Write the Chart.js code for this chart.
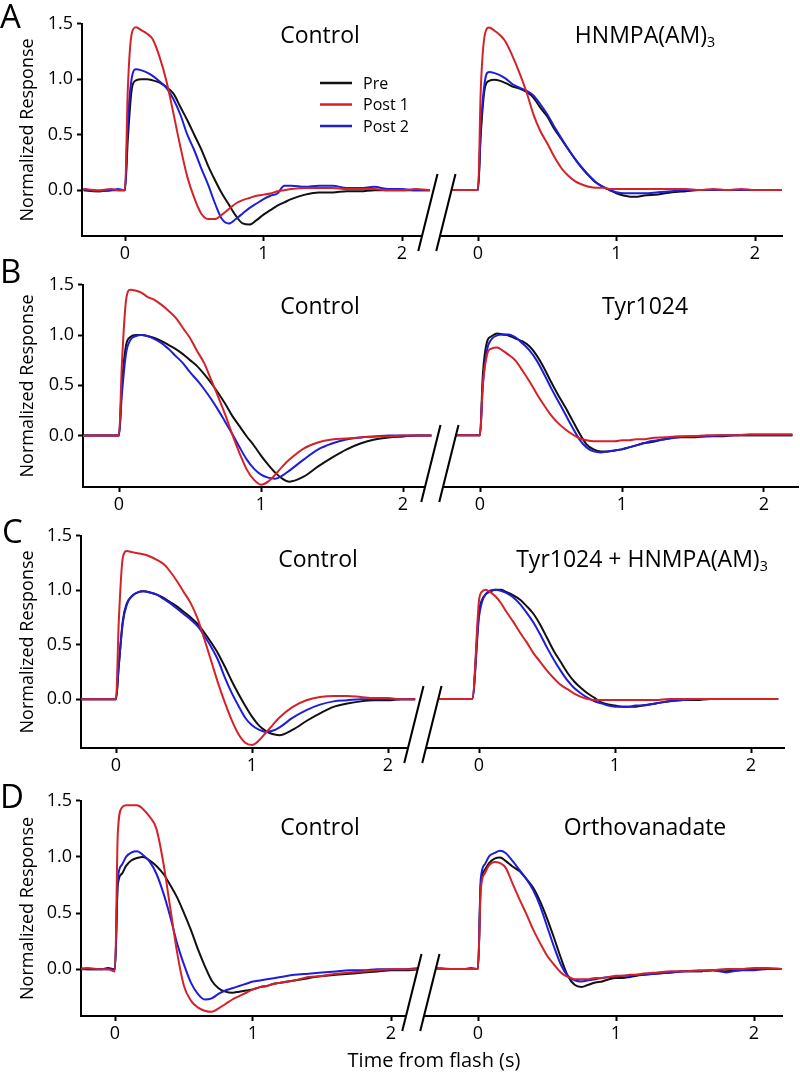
<!DOCTYPE html>
<html>
<head>
<meta charset="utf-8">
<title>Normalized response</title>
<script src="https://cdn.jsdelivr.net/npm/chart.js@4.4.1/dist/chart.umd.min.js"></script>
<style>
  html, body { margin: 0; padding: 0; background: #fff; }
  #fig { position: relative; width: 800px; height: 1074px; overflow: hidden; font-family: "Open Sans", sans-serif; color: #000; }
  #fig canvas { position: absolute; }
  .txt { position: absolute; line-height: 1; white-space: nowrap; z-index: 5; }
  .txt sub { font-size: 0.62em; line-height: 0; vertical-align: -0.28em; }
</style>
</head>
<body>
<div id="fig"></div>
<script>
// time from flash (s), shared by every trace
const time = [-0.3, -0.2, -0.1, -0.05, 0, 0.02, 0.05, 0.08, 0.12, 0.16, 0.2, 0.25, 0.3, 0.35, 0.4, 0.45, 0.5, 0.55, 0.6, 0.65, 0.7, 0.75, 0.8, 0.85, 0.9, 0.95, 1.0, 1.05, 1.1, 1.15, 1.2, 1.3, 1.4, 1.5, 1.6, 1.7, 1.8, 1.9, 2.0, 2.1, 2.2];
const seriesNames = ["Pre", "Post 1", "Post 2"];
const xTicks = [0, 1, 2];
const yTicks = [0, 0.5, 1.0, 1.5];

// A - Control / HNMPA(AM)3
const aControlPre   = [0, -0.01, 0, 0, 0, 0.45, 0.92, 0.99, 1.0, 1.0, 0.99, 0.97, 0.93, 0.87, 0.75, 0.63, 0.5, 0.37, 0.22, 0.09, -0.03, -0.13, -0.23, -0.3, -0.31, -0.27, -0.22, -0.18, -0.14, -0.11, -0.08, -0.04, -0.02, -0.02, -0.01, -0.01, 0, 0, 0, 0, 0];
const aControlPost1 = [0.01, 0, 0.01, 0, 0, 0.9, 1.42, 1.47, 1.44, 1.41, 1.36, 1.2, 0.98, 0.69, 0.39, 0.12, -0.07, -0.21, -0.26, -0.26, -0.22, -0.17, -0.12, -0.09, -0.07, -0.05, -0.04, -0.03, -0.01, 0, 0.01, 0.02, 0.02, 0.02, 0.01, 0.01, 0.01, 0, 0, 0.01, 0];
const aControlPost2 = [0.01, -0.01, 0, 0.01, 0, 0.6, 1.02, 1.09, 1.08, 1.06, 1.03, 0.98, 0.92, 0.82, 0.68, 0.5, 0.36, 0.2, 0.05, -0.12, -0.26, -0.3, -0.26, -0.21, -0.16, -0.12, -0.08, -0.05, -0.03, 0.04, 0.04, 0.03, 0.04, 0.04, 0.02, 0.02, 0.03, 0.01, 0.01, 0, 0];
const aHnmpaPre     = [0, 0, 0, 0, 0, 0.5, 0.92, 0.98, 0.99, 0.98, 0.96, 0.93, 0.91, 0.88, 0.83, 0.74, 0.66, 0.55, 0.46, 0.37, 0.28, 0.2, 0.13, 0.07, 0.03, 0, -0.03, -0.05, -0.06, -0.06, -0.05, -0.04, -0.02, -0.01, 0, 0, 0, 0, 0, 0, 0];
const aHnmpaPost1   = [0, 0, 0, 0, 0, 0.9, 1.4, 1.46, 1.43, 1.39, 1.33, 1.2, 1.05, 0.88, 0.68, 0.53, 0.42, 0.3, 0.2, 0.13, 0.08, 0.05, 0.03, 0.02, 0.02, 0.01, 0.01, 0.01, 0.01, 0.01, 0.01, 0.01, 0.01, 0.01, 0, 0.01, 0, 0.01, 0, 0, 0];
const aHnmpaPost2   = [0, 0, 0, 0, 0, 0.55, 0.98, 1.06, 1.05, 1.03, 1.0, 0.95, 0.92, 0.89, 0.85, 0.77, 0.68, 0.57, 0.47, 0.37, 0.28, 0.2, 0.13, 0.07, 0.03, 0, -0.02, -0.03, -0.03, -0.03, -0.03, -0.02, -0.01, 0, 0, 0, 0, 0, 0, 0, 0];

// B - Control / Tyr1024
const bControlPre   = [0, 0, 0, 0, 0, 0.5, 0.9, 0.98, 1.0, 1.0, 0.99, 0.97, 0.94, 0.9, 0.86, 0.81, 0.75, 0.69, 0.61, 0.52, 0.42, 0.31, 0.19, 0.09, -0.01, -0.1, -0.2, -0.29, -0.37, -0.43, -0.46, -0.41, -0.31, -0.22, -0.14, -0.08, -0.04, -0.02, -0.01, 0, 0];
const bControlPost1 = [-0.01, 0, 0, 0, 0, 0.7, 1.35, 1.45, 1.44, 1.42, 1.38, 1.35, 1.3, 1.24, 1.17, 1.07, 0.97, 0.84, 0.72, 0.55, 0.38, 0.2, 0, -0.18, -0.34, -0.44, -0.49, -0.46, -0.39, -0.31, -0.24, -0.13, -0.07, -0.04, -0.03, -0.02, -0.01, -0.01, 0, 0, 0];
const bControlPost2 = [0, 0, 0, 0, 0, 0.4, 0.82, 0.95, 0.99, 1.0, 0.99, 0.96, 0.92, 0.86, 0.79, 0.72, 0.63, 0.55, 0.46, 0.36, 0.25, 0.13, 0.01, -0.12, -0.24, -0.33, -0.39, -0.42, -0.43, -0.4, -0.35, -0.24, -0.14, -0.08, -0.04, -0.02, -0.01, 0, 0, 0, 0];
const bTyrPre       = [0, 0, 0, 0, 0, 0.6, 0.93, 0.98, 1.01, 1.0, 0.99, 0.96, 0.93, 0.88, 0.79, 0.67, 0.53, 0.4, 0.28, 0.15, 0.02, -0.09, -0.14, -0.16, -0.16, -0.15, -0.14, -0.12, -0.1, -0.08, -0.07, -0.04, -0.02, -0.02, -0.01, -0.01, 0, 0, 0, 0, 0];
const bTyrPost1     = [0, 0, 0, 0, 0, 0.5, 0.8, 0.86, 0.87, 0.84, 0.8, 0.74, 0.64, 0.53, 0.41, 0.3, 0.2, 0.12, 0.06, 0.01, -0.03, -0.05, -0.06, -0.06, -0.06, -0.06, -0.05, -0.05, -0.04, -0.04, -0.03, -0.02, -0.01, -0.01, 0, 0, 0, 0.01, 0.01, 0.01, 0.01];
const bTyrPost2     = [0, 0, 0, 0, 0, 0.5, 0.85, 0.95, 0.99, 1.0, 1.0, 0.97, 0.91, 0.84, 0.74, 0.61, 0.47, 0.34, 0.21, 0.08, -0.04, -0.12, -0.16, -0.17, -0.16, -0.15, -0.14, -0.12, -0.1, -0.08, -0.06, -0.04, -0.02, -0.01, -0.01, 0, 0, 0, 0, 0, 0];

// C - Control / Tyr1024 + HNMPA(AM)3
const cControlPre   = [0, 0, 0, 0, 0, 0.3, 0.72, 0.88, 0.95, 0.98, 0.99, 0.98, 0.96, 0.93, 0.89, 0.85, 0.8, 0.75, 0.69, 0.61, 0.52, 0.42, 0.3, 0.17, 0.05, -0.06, -0.16, -0.24, -0.29, -0.32, -0.33, -0.28, -0.2, -0.13, -0.07, -0.04, -0.02, -0.01, -0.01, 0, 0];
const cControlPost1 = [0, 0, 0, 0, 0, 0.7, 1.3, 1.36, 1.35, 1.34, 1.33, 1.31, 1.28, 1.24, 1.17, 1.08, 0.98, 0.88, 0.74, 0.55, 0.35, 0.15, -0.03, -0.19, -0.32, -0.4, -0.42, -0.38, -0.31, -0.24, -0.17, -0.07, -0.01, 0.02, 0.03, 0.03, 0.02, 0.01, 0.01, 0, 0];
const cControlPost2 = [0, 0, 0, 0, 0, 0.3, 0.7, 0.87, 0.95, 0.98, 0.99, 0.98, 0.96, 0.92, 0.88, 0.83, 0.78, 0.73, 0.67, 0.58, 0.48, 0.36, 0.2, 0.06, -0.06, -0.17, -0.24, -0.28, -0.3, -0.29, -0.26, -0.17, -0.1, -0.05, -0.02, -0.01, 0, 0, 0, 0, 0];
const cComboPre     = [0, 0, 0, 0, 0.8, 0.9, 0.96, 0.98, 1.0, 1.0, 0.98, 0.95, 0.91, 0.85, 0.78, 0.68, 0.56, 0.44, 0.34, 0.24, 0.16, 0.1, 0.05, 0.01, -0.03, -0.05, -0.06, -0.07, -0.07, -0.07, -0.06, -0.04, -0.02, -0.01, -0.01, 0, 0, 0, 0, 0, 0];
const cComboPost1   = [0, 0, 0, 0, 0.9, 0.98, 1.0, 0.98, 0.94, 0.88, 0.8, 0.71, 0.61, 0.52, 0.42, 0.34, 0.26, 0.19, 0.13, 0.09, 0.05, 0.02, 0, -0.01, -0.01, -0.01, -0.01, -0.01, -0.01, -0.01, -0.01, -0.01, 0, 0, 0, 0, 0, 0, 0, 0, 0];
const cComboPost2   = [0, 0, 0, 0, 0.75, 0.88, 0.96, 0.99, 1.0, 0.99, 0.97, 0.93, 0.87, 0.79, 0.7, 0.59, 0.47, 0.36, 0.26, 0.17, 0.1, 0.05, 0.01, -0.02, -0.04, -0.06, -0.07, -0.07, -0.07, -0.06, -0.06, -0.04, -0.02, -0.01, 0, 0, 0, 0, 0, 0, 0];

// D - Control / Orthovanadate
const dControlPre   = [0.01, 0, 0, 0.01, 0, 0.75, 0.85, 0.92, 0.97, 0.99, 1.0, 0.97, 0.92, 0.85, 0.75, 0.64, 0.5, 0.35, 0.18, 0.03, -0.1, -0.17, -0.2, -0.21, -0.2, -0.19, -0.18, -0.16, -0.15, -0.13, -0.12, -0.1, -0.08, -0.06, -0.05, -0.04, -0.03, -0.02, -0.01, -0.01, 0];
const dControlPost1 = [0, 0.01, 0, 0, -0.02, 1.2, 1.44, 1.46, 1.46, 1.46, 1.43, 1.36, 1.25, 0.95, 0.55, 0.15, -0.15, -0.28, -0.34, -0.37, -0.38, -0.35, -0.31, -0.27, -0.24, -0.21, -0.18, -0.16, -0.15, -0.13, -0.12, -0.1, -0.07, -0.06, -0.04, -0.03, -0.02, -0.01, 0, 0, 0];
const dControlPost2 = [0, 0, 0, 0, 0, 0.8, 0.93, 1.0, 1.04, 1.05, 1.02, 0.96, 0.85, 0.68, 0.47, 0.23, 0.04, -0.12, -0.22, -0.27, -0.26, -0.22, -0.19, -0.17, -0.15, -0.13, -0.11, -0.1, -0.09, -0.08, -0.07, -0.05, -0.04, -0.03, -0.02, -0.01, -0.01, 0, 0, 0, 0.01];
const dOrthoPre     = [0, 0, 0, 0, 0, 0.75, 0.88, 0.94, 0.98, 0.99, 0.96, 0.91, 0.87, 0.8, 0.72, 0.6, 0.45, 0.28, 0.1, -0.06, -0.14, -0.16, -0.14, -0.12, -0.11, -0.09, -0.08, -0.08, -0.07, -0.06, -0.05, -0.04, -0.03, -0.02, -0.02, -0.01, -0.02, -0.01, 0, 0, 0];
const dOrthoPost1   = [0, 0, 0, 0, 0, 0.7, 0.85, 0.92, 0.95, 0.94, 0.9, 0.76, 0.62, 0.49, 0.35, 0.23, 0.12, 0.04, -0.03, -0.07, -0.09, -0.09, -0.09, -0.08, -0.08, -0.07, -0.06, -0.06, -0.05, -0.05, -0.04, -0.03, -0.02, -0.02, -0.01, -0.01, 0, 0, 0.01, 0.01, 0];
const dOrthoPost2   = [0.01, 0, 0, 0.01, 0, 0.8, 0.93, 1.0, 1.03, 1.05, 1.03, 0.96, 0.88, 0.8, 0.7, 0.56, 0.38, 0.2, 0.04, -0.06, -0.1, -0.11, -0.1, -0.09, -0.08, -0.07, -0.07, -0.06, -0.06, -0.05, -0.05, -0.04, -0.03, -0.02, -0.02, -0.01, -0.03, -0.01, -0.01, 0, 0];

const COLORS = ["#111111", "#d42228", "#1e1ed8"];
const ORDER = [2, 0, 1]; // red on top, then blue, black underneath
const PAD_TOP = 14, X_AXIS_H = 34, BREAK_LEFT = 380, GAP = 18;

// page layout of each row (pixels)
const rows = [
  { letter: "A", letterY: 28, titleY: 43, leftTitleX: 320, rightTitleX: 645,
    yTop: 23, yBottom: 236, yMin: -0.413, x0L: 125, x0R: 478, unit: 138.5, axisLeft: 82, breakX: 440, rightEnd: 782,
    leftTitle: "Control", rightTitle: "HNMPA(AM)<sub>3</sub>",
    left: [aControlPre, aControlPost1, aControlPost2], right: [aHnmpaPre, aHnmpaPost1, aHnmpaPost2], legend: true },
  { letter: "B", letterY: 283, titleY: 314, leftTitleX: 320, rightTitleX: 645,
    yTop: 284, yBottom: 487, yMin: -0.513, x0L: 119, x0R: 480, unit: 142, axisLeft: 83, breakX: 443, rightEnd: 798,
    leftTitle: "Control", rightTitle: "Tyr1024",
    left: [bControlPre, bControlPost1, bControlPost2], right: [bTyrPre, bTyrPost1, bTyrPost2] },
  { letter: "C", letterY: 543, titleY: 567, leftTitleX: 318, rightTitleX: 642,
    yTop: 535, yBottom: 748, yMin: -0.448, x0L: 116, x0R: 479, unit: 136, axisLeft: 81, breakX: 426, rightEnd: 784,
    leftTitle: "Control", rightTitle: "Tyr1024 + HNMPA(AM)<sub>3</sub>",
    left: [cControlPre, cControlPost1, cControlPost2], right: [cComboPre, cComboPost1, cComboPost2] },
  { letter: "D", letterY: 808, titleY: 835, leftTitleX: 320, rightTitleX: 645,
    yTop: 800, yBottom: 1016, yMin: -0.417, x0L: 115, x0R: 478, unit: 138, axisLeft: 81, breakX: 424, rightEnd: 782,
    leftTitle: "Control", rightTitle: "Orthovanadate",
    left: [dControlPre, dControlPost1, dControlPost2], right: [dOrthoPre, dOrthoPost1, dOrthoPost2] }
];

Chart.defaults.font.family = '"Open Sans", sans-serif';
Chart.defaults.color = "#000";

const fig = document.getElementById("fig");

function addText(html, x, baseline, size, align) {
  const d = document.createElement("div");
  d.className = "txt";
  d.innerHTML = html;
  d.style.fontSize = size + "px";
  d.style.top = (baseline - size * 0.888) + "px";
  d.style.left = x + "px";
  if (align === "center") d.style.transform = "translateX(-50%)";
  fig.appendChild(d);
}

function addCanvas(left, top, w, h) {
  const c = document.createElement("canvas");
  c.width = w; c.height = h;
  c.style.left = left + "px"; c.style.top = top + "px";
  c.style.width = w + "px"; c.style.height = h + "px";
  fig.appendChild(c);
  return c;
}

function makeDatasets(series) {
  return series.map((vals, i) => ({
    label: seriesNames[i],
    data: vals.map((v, k) => ({ x: time[k], y: v })),
    borderColor: COLORS[i],
    borderWidth: 2,
    pointRadius: 0,
    cubicInterpolationMode: "monotone",
    order: ORDER[i]
  }));
}

const axisLine = { display: true, color: "#000", width: 2 };
const tickGrid = { drawOnChartArea: false, drawTicks: true, tickLength: 5, tickWidth: 2, tickColor: "#000" };

function xScale(min, max) {
  return {
    type: "linear", min: min, max: max,
    afterBuildTicks: s => { s.ticks = xTicks.map(v => ({ value: v })); },
    afterFit: s => { s.height = X_AXIS_H; },
    grid: tickGrid, border: axisLine,
    ticks: { color: "#000", font: { size: 18 }, padding: 2, maxRotation: 0, autoSkip: false, callback: v => String(v) }
  };
}

// legend drawn inside the plot area of the first panel
const insetLegend = {
  id: "insetLegend",
  afterDraw(chart, args, opts) {
    if (!opts.show) return;
    const ctx = chart.ctx;
    ctx.save();
    ctx.font = '16px "Open Sans", sans-serif';
    ctx.textBaseline = "middle";
    chart.data.datasets.forEach((ds, i) => {
      const y = opts.y + i * opts.gap;
      ctx.strokeStyle = ds.borderColor;
      ctx.lineWidth = 2.5;
      ctx.beginPath(); ctx.moveTo(opts.x, y); ctx.lineTo(opts.x + 32, y); ctx.stroke();
      ctx.fillStyle = "#000";
      ctx.fillText(ds.label, opts.x + 43, y + 1);
    });
    ctx.restore();
  }
};

// the // break between the two panels of a row, drawn by the right panel
const axisBreak = {
  id: "axisBreak",
  afterDraw(chart) {
    const { ctx, chartArea } = chart;
    const yA = chartArea.bottom, x2 = chartArea.left, x1 = x2 - GAP;
    const below = 15, above = 62, slope = 0.25;
    const seg = x => [[x - below * slope, yA + below], [x + above * slope, yA - above]];
    const a = seg(x1), b = seg(x2);
    ctx.save();
    ctx.fillStyle = "#fff";
    ctx.beginPath();
    ctx.moveTo(a[0][0], a[0][1]); ctx.lineTo(a[1][0], a[1][1]);
    ctx.lineTo(b[1][0], b[1][1]); ctx.lineTo(b[0][0], b[0][1]);
    ctx.closePath(); ctx.fill();
    ctx.strokeStyle = "#000"; ctx.lineWidth = 2;
    [a, b].forEach(s => { ctx.beginPath(); ctx.moveTo(s[0][0], s[0][1]); ctx.lineTo(s[1][0], s[1][1]); ctx.stroke(); });
    ctx.restore();
  }
};

rows.forEach(row => {
  const top = row.yTop - PAD_TOP;
  const h = PAD_TOP + (row.yBottom - row.yTop) + X_AXIS_H;
  const leftW = row.breakX - 4;

  // left panel (control)
  const lc = addCanvas(0, top, leftW, h);
  new Chart(lc, {
    type: "line",
    data: { datasets: makeDatasets(row.left) },
    plugins: [insetLegend],
    options: {
      responsive: false, animation: false, events: [],
      layout: { padding: { top: PAD_TOP, left: 0, right: 0, bottom: 0 } },
      plugins: {
        legend: { display: false }, tooltip: { enabled: false },
        insetLegend: { show: !!row.legend, x: 320, y: 83 - top, gap: 21.5 }
      },
      scales: {
        x: xScale((row.axisLeft - row.x0L) / row.unit, (leftW - row.x0L) / row.unit),
        y: {
          min: row.yMin, max: 1.5,
          afterBuildTicks: s => { s.ticks = yTicks.map(v => ({ value: v })); },
          afterFit: s => { s.width = row.axisLeft; },
          grid: tickGrid, border: axisLine,
          ticks: { color: "#000", font: { size: 18 }, padding: 4, callback: v => v.toFixed(1) },
          title: { display: true, text: "Normalized Response", color: "#000", font: { size: 18 }, padding: { top: 17, bottom: 0 } }
        }
      }
    }
  });

  // right panel (treatment), drawn over the gap
  const rc = addCanvas(BREAK_LEFT, top, 800 - BREAK_LEFT, h);
  new Chart(rc, {
    type: "line",
    data: { datasets: makeDatasets(row.right) },
    plugins: [axisBreak],
    options: {
      responsive: false, animation: false, events: [],
      layout: { padding: { top: PAD_TOP, left: row.breakX - BREAK_LEFT, right: 800 - row.rightEnd, bottom: 0 } },
      plugins: { legend: { display: false }, tooltip: { enabled: false } },
      scales: {
        x: xScale((row.breakX - row.x0R) / row.unit, (row.rightEnd - row.x0R) / row.unit),
        y: { display: false, min: row.yMin, max: 1.5 }
      }
    }
  });

  addText(row.letter, row.letter === "C" ? 2 : 0, row.letterY, 33, "left");
  addText(row.leftTitle, row.leftTitleX, row.titleY, 23, "center");
  addText(row.rightTitle, row.rightTitleX, row.titleY, 23, "center");
});

addText("Time from flash (s)", 434, 1068, 20, "center");
</script>
</body>
</html>
